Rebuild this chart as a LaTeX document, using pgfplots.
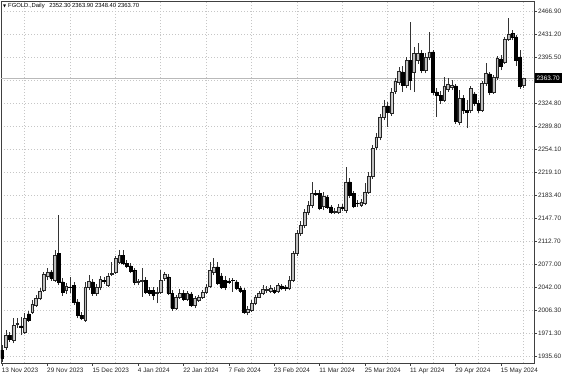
\documentclass[border=0pt]{standalone}
\usepackage{fontspec}
\setmainfont{Liberation Sans}
\newfontfamily\dejavu{DejaVu Sans}
\usepackage{pgfplots}
\usepackage{pgfplotstable}
\pgfplotsset{compat=1.18}

\pgfplotstableread{
i O H L C
0 1944.8 1952.5 1926.4 1932.5
1 1949.5 1975.6 1944.8 1967.9
2 1967.9 1972.6 1957.2 1961.8
3 1960.2 1994.1 1955.6 1983.3
4 1984.9 1994.1 1978.7 1986.4
5 1981.8 1995.7 1967.9 1980.3
6 1972.6 2001.8 1969.5 1994.1
7 2000.3 2004.9 1988.0 1991.0
8 2003.4 2021.8 2000.3 2015.7
9 2014.1 2029.5 2011.1 2024.9
10 2024.9 2040.3 2021.8 2035.7
11 2037.2 2065.0 2034.2 2061.9
12 2058.8 2071.1 2052.6 2065.0
13 2065.0 2068.0 2051.1 2055.7
14 2052.6 2098.8 2049.6 2091.1
15 2094.2 2152.7 2044.9 2049.6
16 2049.6 2055.7 2028.0 2034.2
17 2037.2 2048.0 2031.1 2043.4
18 2041.9 2057.3 2032.6 2041.1
19 2044.9 2049.6 2014.1 2018.8
20 2018.8 2023.4 1994.1 1998.7
21 1998.7 2003.4 1991.0 1994.1
22 1991.0 2049.6 1988.0 2041.9
23 2041.9 2060.3 2037.2 2051.1
24 2049.6 2054.2 2028.0 2032.6
25 2032.6 2046.5 2028.0 2041.9
26 2041.9 2058.8 2037.2 2054.2
27 2052.6 2057.3 2046.5 2051.1
28 2044.9 2063.4 2041.9 2058.8
29 2061.9 2080.4 2058.8 2063.4
30 2065.0 2089.6 2061.9 2086.5
31 2080.4 2098.8 2077.3 2091.1
32 2091.1 2098.8 2075.7 2078.8
33 2078.8 2083.4 2071.1 2074.2
34 2074.2 2078.8 2063.4 2066.5
35 2068.0 2071.1 2044.9 2049.6
36 2049.6 2054.2 2044.9 2051.1
37 2051.1 2071.1 2026.5 2052.6
38 2052.6 2057.3 2031.1 2034.2
39 2037.2 2041.9 2028.0 2032.6
40 2037.2 2041.9 2021.8 2029.5
41 2032.6 2041.9 2017.2 2034.2
42 2034.2 2068.0 2031.1 2052.6
43 2055.7 2065.0 2051.1 2061.9
44 2057.3 2061.9 2029.5 2032.6
45 2032.6 2037.2 2004.9 2009.5
46 2009.5 2029.5 2006.4 2026.5
47 2026.5 2038.8 2023.4 2032.6
48 2032.6 2037.2 2020.3 2023.4
49 2023.4 2035.7 2020.3 2032.6
50 2031.1 2034.2 2011.1 2014.1
51 2014.1 2028.0 2009.5 2024.9
52 2021.8 2029.5 2018.8 2026.5
53 2026.5 2037.2 2023.4 2034.2
54 2034.2 2046.5 2031.1 2041.9
55 2043.4 2080.4 2040.3 2068.0
56 2065.0 2086.5 2060.3 2072.7
57 2072.7 2080.4 2044.9 2048.0
58 2058.8 2063.4 2038.8 2041.9
59 2052.6 2058.8 2037.2 2041.9
60 2051.1 2055.7 2046.5 2049.6
61 2052.6 2055.7 2034.2 2051.9
62 2049.6 2052.6 2037.2 2040.3
63 2040.3 2043.4 2032.6 2035.7
64 2037.2 2040.3 2000.3 2003.4
65 2003.4 2012.6 1998.7 2008.0
66 2006.4 2021.8 2003.4 2017.2
67 2017.2 2029.5 2014.1 2026.5
68 2026.5 2035.7 2024.9 2032.6
69 2032.6 2044.9 2029.5 2038.8
70 2037.2 2043.4 2032.6 2038.0
71 2035.7 2044.9 2032.6 2040.3
72 2037.2 2041.9 2031.1 2034.2
73 2035.7 2048.0 2032.6 2044.9
74 2043.4 2046.5 2037.2 2040.3
75 2041.9 2044.9 2035.7 2040.3
76 2040.3 2058.8 2037.2 2052.6
77 2052.6 2097.3 2049.6 2094.2
78 2094.2 2129.6 2089.6 2125.0
79 2125.0 2143.5 2120.4 2137.3
80 2137.3 2162.0 2132.7 2157.4
81 2157.4 2174.3 2152.7 2168.1
82 2168.1 2203.6 2163.5 2186.6
83 2186.6 2191.2 2182.0 2185.1
84 2186.6 2191.2 2160.4 2163.5
85 2166.6 2188.2 2160.4 2182.0
86 2180.5 2183.5 2162.0 2165.1
87 2165.1 2168.1 2154.3 2157.4
88 2157.4 2163.5 2154.3 2158.9
89 2157.4 2169.7 2154.3 2165.1
90 2165.1 2169.7 2158.9 2163.5
91 2160.4 2226.7 2155.8 2203.6
92 2203.6 2209.7 2178.9 2183.5
93 2186.6 2189.7 2163.5 2166.6
94 2171.2 2175.8 2165.1 2170.5
95 2168.1 2177.4 2165.1 2172.8
96 2171.2 2202.0 2168.1 2188.2
97 2188.2 2219.0 2185.1 2212.8
98 2212.8 2260.5 2208.2 2255.9
99 2257.5 2279.0 2252.8 2272.9
100 2272.9 2308.3 2268.2 2303.7
101 2303.7 2329.8 2299.0 2320.6
102 2320.6 2326.8 2288.3 2311.4
103 2309.8 2348.3 2305.2 2342.2
104 2343.7 2363.7 2339.1 2359.1
105 2357.6 2380.7 2352.9 2374.5
106 2373.0 2382.2 2342.2 2352.9
107 2352.9 2396.1 2348.3 2391.4
108 2391.4 2450.0 2345.2 2360.6
109 2373.0 2411.5 2342.2 2402.2
110 2391.4 2417.6 2385.3 2402.2
111 2402.2 2406.8 2371.4 2376.0
112 2376.0 2402.2 2371.4 2396.1
113 2396.1 2434.6 2391.4 2403.8
114 2403.8 2406.8 2337.5 2342.2
115 2342.2 2348.3 2303.7 2337.5
116 2337.5 2343.7 2323.7 2329.8
117 2329.8 2365.3 2326.8 2351.4
118 2346.8 2363.7 2342.2 2354.5
119 2349.9 2360.6 2345.2 2352.9
120 2351.4 2354.5 2292.9 2297.5
121 2296.0 2345.2 2291.3 2332.9
122 2332.9 2337.5 2308.3 2314.4
123 2314.4 2329.8 2286.7 2311.4
124 2314.4 2351.4 2309.8 2348.3
125 2339.1 2342.2 2320.6 2325.2
126 2325.2 2329.8 2309.8 2314.4
127 2314.4 2359.1 2311.4 2356.0
128 2356.0 2386.8 2351.4 2371.4
129 2369.9 2373.0 2337.5 2342.2
130 2342.2 2368.3 2339.1 2365.3
131 2365.3 2397.6 2360.6 2394.5
132 2393.0 2399.1 2376.0 2382.2
133 2388.4 2426.9 2385.3 2423.8
134 2423.8 2456.1 2420.7 2431.5
135 2433.0 2437.6 2422.2 2426.9
136 2426.9 2429.9 2382.2 2391.4
137 2396.1 2406.8 2346.8 2351.4
138 2352.3 2363.9 2348.4 2363.7
}\ohlc

\pgfplotsset{
  base/.style={
    scale only axis, width=399.75pt, height=271.5pt,
    at={(0,0)}, anchor=south west,
    xmin=-0.265, xmax=140.74, ymin=1924.8, ymax=2482.3,
  },
}

\begin{document}
\begin{tikzpicture}
\useasboundingbox (-0.75pt,-9.75pt) rectangle (422.25pt,272.25pt);
\begin{axis}[base,
  axis line style={black!75, line width=0.45pt},
  xtick={0,12,...,132},
  xticklabels={13 Nov 2023,29 Nov 2023,15 Dec 2023,4 Jan 2024,22 Jan 2024,7 Feb 2024,23 Feb 2024,11 Mar 2024,25 Mar 2024,11 Apr 2024,29 Apr 2024,15 May 2024},
  minor xtick={6,18,...,138},
  ytick={1935.6,1971.3,2006.3,2042.0,2077.0,2112.7,2147.7,2183.4,2219.1,2254.1,2289.8,2324.8,2360.5,2395.5,2431.2,2466.9},
  yticklabels={1935.60,1971.30,2006.30,2042.00,2077.00,2112.70,2147.70,2183.40,2219.10,2254.10,2289.80,2324.80,{},2395.50,2431.20,2466.90},
  xtick pos=left, ytick pos=right,
  tick align=outside,
  major tick length=2.2pt, minor tick length=0pt,
  tick style={black!75, line width=0.4pt},
  xmajorgrids=false, xminorgrids=true, ymajorgrids=true,
  major grid style={gray!45, line width=0.4pt, dash pattern=on 0.75pt off 1.5pt},
  minor grid style={gray!45, line width=0.4pt, dash pattern=on 0.75pt off 1.5pt},
  tick label style={font=\fontsize{4.8}{5.5}\selectfont, black!85},
  xticklabel style={anchor=north west, inner sep=0pt, xshift=-0.3pt, yshift=-1.2pt},
  yticklabel style={anchor=west, inner sep=0pt, xshift=0.6pt},
  /pgf/number format/assume math mode=true,
  clip mode=individual,
]
\addplot[gray!55, line width=0.4pt, forget plot] coordinates {(-1,2363.7) (142,2363.7)};
\addplot[only marks, mark=*, mark size=0pt, mark options={draw=none, fill=none},
  error bars/.cd, y dir=plus, y explicit, error mark=none,
  error bar style={draw=black!80, solid, line width=0.4pt}]
  table[x=i, y=L, y error plus expr={\thisrow{H}-\thisrow{L}}] {\ohlc};
\end{axis}
\begin{axis}[base, axis lines=none, ybar stacked, bar width=2.1pt]
\addplot[draw=none, fill=none, mark=none] table[x=i, y expr={min(\thisrow{O},\thisrow{C})}] {\ohlc};
\addplot[fill=gray!50, draw=black!85, line width=0.3pt, mark=none] table[x=i, y expr={max(\thisrow{C}-\thisrow{O},0)}] {\ohlc};
\addplot[fill=black, draw=black, line width=0.3pt, mark=none] table[x=i, y expr={max(\thisrow{O}-\thisrow{C},0)}] {\ohlc};
\coordinate (pricept) at (axis cs:140.74,2363.7);
\coordinate (topleft) at (rel axis cs:0,1);
\end{axis}
\node[fill=black, text=white, anchor=west, inner xsep=1.4pt, inner ysep=0pt, minimum height=7pt, font=\fontsize{4.8}{5.5}\selectfont] at ([xshift=0.4pt]pricept) {2363.70};
\node[anchor=west, inner sep=0pt, font=\fontsize{4.4}{5}\selectfont] at ([xshift=1.4pt, yshift=-3.8pt]topleft) {{\dejavu\fontsize{3}{4}\selectfont ▼}\hspace{1.5pt}FGOLD.,Daily\hspace{3.5pt}2352.30 2363.90 2348.40 2363.70};
\end{tikzpicture}
\end{document}
